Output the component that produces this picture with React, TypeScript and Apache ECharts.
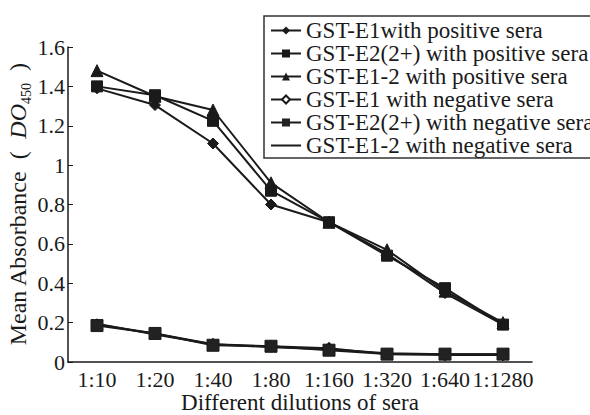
import React, { useEffect, useRef } from "react";
import * as echarts from "echarts";

const categories = ["1:10", "1:20", "1:40", "1:80", "1:160", "1:320", "1:640", "1:1280"];
const seriesNames = [
  "GST-E1with positive sera",
  "GST-E2(2+) with positive sera",
  "GST-E1-2 with positive sera",
  "GST-E1 with negative sera",
  "GST-E2(2+) with negative sera",
  "GST-E1-2 with negative sera",
];
const e1Pos = [1.39, 1.305, 1.11, 0.8, 0.71, 0.55, 0.35, 0.19];
const e2Pos = [1.4, 1.355, 1.225, 0.87, 0.71, 0.54, 0.375, 0.19];
const e12Pos = [1.48, 1.35, 1.28, 0.91, 0.71, 0.57, 0.36, 0.2];
const e1Neg = [0.19, 0.145, 0.09, 0.08, 0.07, 0.04, 0.035, 0.035];
const e2Neg = [0.185, 0.145, 0.085, 0.08, 0.06, 0.04, 0.04, 0.04];
const e12Neg = [0.195, 0.14, 0.09, 0.075, 0.065, 0.045, 0.04, 0.04];
const yTicks = { min: 0, max: 1.6, interval: 0.2 };

const FONT = "'Liberation Serif', 'Times New Roman', serif";
const INK = "#1a1a1a";

export default function App() {
  const ref = useRef<HTMLDivElement>(null);
  useEffect(() => {
    if (!ref.current) return;
    const chart = echarts.init(ref.current, null, { renderer: "svg" });
    const mk = (name: string, data: number[], symbol: string, size: number, extra: any = {}) => ({
      name,
      type: "line",
      data,
      symbol,
      symbolSize: size,
      showSymbol: symbol !== "none",
      lineStyle: { color: INK, width: 2 },
      itemStyle: { color: INK, borderColor: INK, ...extra },
      emphasis: { disabled: true },
    });
    chart.setOption({
      animation: false,
      backgroundColor: "#fff",
      grid: { left: 68, right: 58, top: 47, bottom: 53, containLabel: false, outerBoundsMode: "none" },
      legend: {
        orient: "vertical",
        left: 264,
        top: 16,
        padding: [3, 6, 1, 6],
        itemGap: 0,
        itemWidth: 30,
        itemHeight: 10,
        borderColor: "#333",
        borderWidth: 1.5,
        textStyle: { fontFamily: FONT, fontSize: 23, color: INK },
        data: [
          seriesNames[0],
          seriesNames[1],
          seriesNames[2],
          seriesNames[3],
          seriesNames[4],
          { name: seriesNames[5], itemStyle: { opacity: 0 } },
        ],
      },
      xAxis: {
        type: "category",
        data: categories,
        boundaryGap: true,
        axisLine: { lineStyle: { color: INK, width: 1.5 } },
        axisTick: { inside: true, length: 5, lineStyle: { color: INK } },
        axisLabel: { fontFamily: FONT, fontSize: 22, color: INK, margin: 6, interval: 0 },
        name: "Different dilutions of sera",
        nameLocation: "middle",
        nameGap: 29,
        nameMoveOverlap: false,
        nameTextStyle: { fontFamily: FONT, fontSize: 23, color: INK },
        splitLine: { show: false },
      },
      yAxis: {
        type: "value",
        min: yTicks.min,
        max: yTicks.max,
        interval: yTicks.interval,
        axisLine: { show: true, lineStyle: { color: INK, width: 1.5 } },
        axisTick: { show: true, inside: true, length: 5, lineStyle: { color: INK } },
        axisLabel: { fontFamily: FONT, fontSize: 22, color: INK, margin: 3 },
        splitLine: { show: false },
        name: "{a|Mean Absorbance  (  }{i|DO}{s|450}{a|  )}",
        nameLocation: "middle",
        nameGap: 38,
        nameMoveOverlap: false,
        nameTextStyle: {
          fontFamily: FONT,
          fontSize: 24,
          color: INK,
          rich: {
            a: { fontFamily: FONT, fontSize: 24, color: INK },
            i: { fontFamily: FONT, fontSize: 24, color: INK, fontStyle: "italic" },
            s: { fontFamily: FONT, fontSize: 14, color: INK, verticalAlign: "bottom", padding: [0, 0, -3, 0] },
          },
        },
      },
      series: [
        mk(seriesNames[0], e1Pos, "diamond", 11),
        mk(seriesNames[1], e2Pos, "rect", 11),
        mk(seriesNames[2], e12Pos, "triangle", 12),
        mk(seriesNames[3], e1Neg, "emptyDiamond", 10, { borderWidth: 1.5 }),
        mk(seriesNames[4], e2Neg, "rect", 12, { color: "#222" }),
        mk(seriesNames[5], e12Neg, "none", 0),
      ],
    });
    return () => chart.dispose();
  }, []);
  return <div ref={ref} style={{ position: "absolute", left: 0, top: 0, width: 590, height: 415 }} />;
}
